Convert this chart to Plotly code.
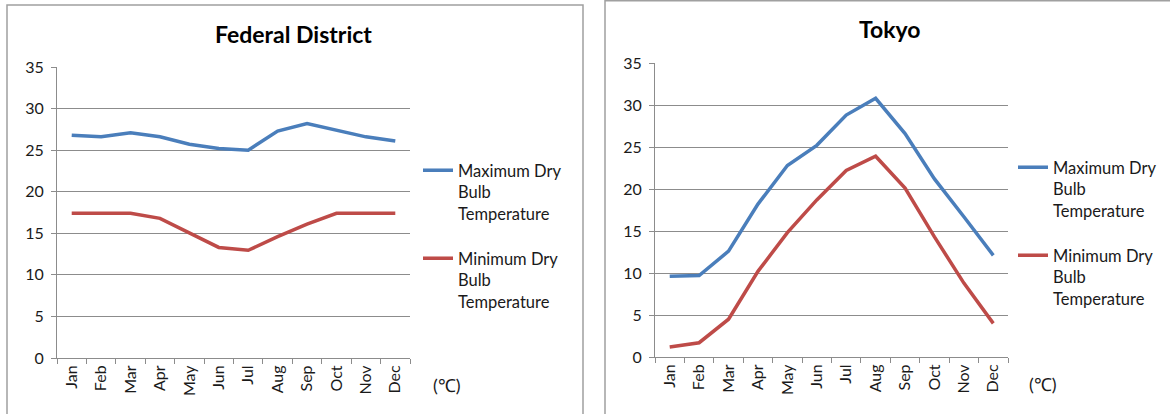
import plotly.graph_objects as go

months = ["Jan", "Feb", "Mar", "Apr", "May", "Jun", "Jul", "Aug", "Sep", "Oct", "Nov", "Dec"]
fd_max = [26.8, 26.6, 27.1, 26.6, 25.7, 25.2, 25.0, 27.3, 28.2, 27.4, 26.6, 26.1]
fd_min = [17.4, 17.4, 17.4, 16.8, 15.0, 13.3, 12.95, 14.6, 16.1, 17.4, 17.4, 17.4]
tk_max = [9.6, 9.7, 12.6, 18.2, 22.8, 25.2, 28.8, 30.8, 26.6, 21.2, 16.7, 12.1]
tk_min = [1.2, 1.7, 4.5, 10.2, 14.8, 18.7, 22.2, 23.9, 20.1, 14.3, 8.8, 4.0]
y_ticks = [0, 5, 10, 15, 20, 25, 30, 35]
name_max = "Maximum Dry<br>Bulb<br>Temperature"
name_min = "Minimum Dry<br>Bulb<br>Temperature"
titles = ["Federal District", "Tokyo"]
unit = "(℃)"

W, H = 1170, 414
BLUE = "#4A7EBB"
RED = "#BE4B48"
GRID = "#8c8c8c"
FONT = "Lato"
TXT = "#1a1a1a"

def px(x):
    return x / W

def py(y):
    return 1 - y / H

fig = go.Figure()
fig.add_trace(go.Scatter(x=months, y=fd_max, mode="lines", name=name_max,
                         line=dict(color=BLUE, width=3.5), xaxis="x", yaxis="y", legend="legend"))
fig.add_trace(go.Scatter(x=months, y=fd_min, mode="lines", name=name_min,
                         line=dict(color=RED, width=3.5), xaxis="x", yaxis="y", legend="legend2"))
fig.add_trace(go.Scatter(x=months, y=tk_max, mode="lines", name=name_max,
                         line=dict(color=BLUE, width=3.5), xaxis="x2", yaxis="y2", legend="legend3"))
fig.add_trace(go.Scatter(x=months, y=tk_min, mode="lines", name=name_min,
                         line=dict(color=RED, width=3.5), xaxis="x2", yaxis="y2", legend="legend4"))

xcommon = dict(type="category", tickson="boundaries", ticks="outside", ticklen=5,
               tickcolor=GRID, tickangle=-90, showline=True, linecolor=GRID, linewidth=1,
               showgrid=False, zeroline=False, tickfont=dict(family=FONT, size=16, color=TXT),
               range=[-0.5, 11.5], fixedrange=True, automargin=False)
ycommon = dict(range=[0, 35], tickvals=y_ticks, ticks="outside", ticklen=5, tickcolor=GRID,
               showline=True, linecolor=GRID, linewidth=1, showgrid=True, gridcolor=GRID,
               gridwidth=1, zeroline=False, tickfont=dict(family=FONT, size=16, color=TXT),
               fixedrange=True, automargin=False, ticklabelstandoff=4)

legcommon = dict(xanchor="left", yanchor="top", bgcolor="rgba(0,0,0,0)",
                 font=dict(family=FONT, size=16.5, color=TXT), itemwidth=30, valign="top",
                 tracegroupgap=0)

fig.update_layout(
    width=W, height=H, autosize=False,
    margin=dict(l=0, r=0, t=0, b=0, pad=0, autoexpand=False),
    paper_bgcolor="white", plot_bgcolor="white",
    xaxis=dict(domain=[px(57), px(410)], anchor="y", **xcommon),
    yaxis=dict(domain=[py(358), py(67)], anchor="x", **ycommon),
    xaxis2=dict(domain=[px(655), px(1008)], anchor="y2", **xcommon),
    yaxis2=dict(domain=[py(357), py(63)], anchor="x2", **ycommon),
    legend=dict(x=px(418), y=py(153), **legcommon),
    legend2=dict(x=px(418), y=py(241), **legcommon),
    legend3=dict(x=px(1013), y=py(150), **legcommon),
    legend4=dict(x=px(1013), y=py(238), **legcommon),
    showlegend=True,
    shapes=[
        dict(type="rect", xref="paper", yref="paper", x0=px(7), x1=px(583), y0=py(430), y1=py(5),
             line=dict(color="#a0a0a0", width=1.5), fillcolor="rgba(0,0,0,0)", layer="below"),
        dict(type="rect", xref="paper", yref="paper", x0=px(605), x1=px(1190), y0=py(430), y1=py(0.8),
             line=dict(color="#a0a0a0", width=1.5), fillcolor="rgba(0,0,0,0)", layer="below"),
    ],
    annotations=[
        dict(text="<b>" + titles[0] + "</b>", x=px(293), y=py(34), xref="paper", yref="paper",
             showarrow=False, xanchor="center", yanchor="middle",
             font=dict(family=FONT, size=23, color="#000")),
        dict(text="<b>" + titles[1] + "</b>", x=px(890), y=py(29), xref="paper", yref="paper",
             showarrow=False, xanchor="center", yanchor="middle",
             font=dict(family=FONT, size=23, color="#000")),
        dict(text=unit, x=px(447), y=py(385), xref="paper", yref="paper", showarrow=False,
             xanchor="center", yanchor="middle", font=dict(family=FONT, size=18, color=TXT)),
        dict(text=unit, x=px(1043), y=py(384), xref="paper", yref="paper", showarrow=False,
             xanchor="center", yanchor="middle", font=dict(family=FONT, size=18, color=TXT)),
    ],
)

fig.write_html("out.html")
